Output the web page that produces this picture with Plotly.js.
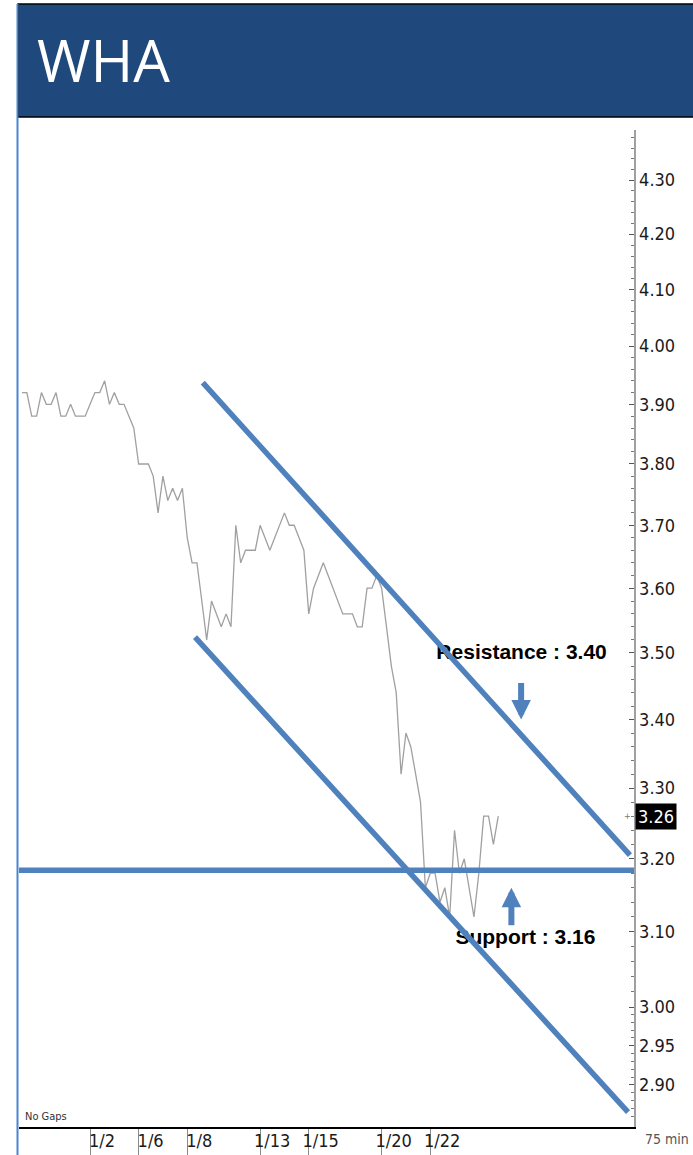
<!DOCTYPE html>
<html>
<head>
<meta charset="utf-8">
<script src="https://cdn.plot.ly/plotly-3.0.1.min.js"></script>
<style>
  html, body { margin: 0; padding: 0; background: #ffffff; }
  #chart { width: 693px; height: 1155px; }
</style>
</head>
<body>
<div id="chart"></div>
<script>
// ---- data (75-minute bars, WHA) ----
const prices = [
  3.92, 3.92, 3.88, 3.88, 3.92, 3.90, 3.90, 3.92, 3.88, 3.88,
  3.90, 3.88, 3.88, 3.88, 3.90, 3.92, 3.92, 3.94, 3.90, 3.92,
  3.90, 3.90, 3.88, 3.86, 3.80, 3.80, 3.80, 3.78, 3.72, 3.78,
  3.74, 3.76, 3.74, 3.76, 3.68, 3.64, 3.64, 3.58, 3.52, 3.58,
  3.56, 3.54, 3.56, 3.54, 3.70, 3.64, 3.66, 3.66, 3.66, 3.70,
  3.68, 3.66, 3.68, 3.70, 3.72, 3.70, 3.70, 3.68, 3.66, 3.56,
  3.60, 3.62, 3.64, 3.62, 3.60, 3.58, 3.56, 3.56, 3.56, 3.54,
  3.54, 3.60, 3.60, 3.62, 3.60, 3.54, 3.48, 3.44, 3.32, 3.38,
  3.36, 3.32, 3.28, 3.16, 3.18, 3.18, 3.14, 3.16, 3.12, 3.24,
  3.18, 3.20, 3.16, 3.12, 3.18, 3.26, 3.26, 3.22, 3.26
];
const bars = prices.map((p, i) => i);

const dateLabels = ['1/2', '1/6', '1/8', '1/13', '1/15', '1/20', '1/22'];
const dateBars = [14, 24, 34, 49, 59, 74, 84];

const yTickVals = [2.90, 2.95, 3.00, 3.10, 3.20, 3.30, 3.40, 3.50, 3.60, 3.70, 3.80, 3.90, 4.00, 4.10, 4.20, 4.30];
const yTickText = ['2.90', '2.95', '3.00', '3.10', '3.20', '3.30', '3.40', '3.50', '3.60', '3.70', '3.80', '3.90', '4.00', '4.10', '4.20', '4.30'];

// trend lines (bar index, price)
const resistLineX = [37.2, 125.1];
const resistLineY = [3.937, 3.205];
const channelLowX = [35.6, 124.7];
const channelLowY = [3.524, 2.866];
const supportLevel = 3.184;
const supportLineX = [-0.7, 126.0];

const resistanceValue = 3.40;
const supportValue = 3.16;
const lastPrice = 3.26;

// ---- layout helpers ----
const W = 693, H = 1155;
const M = { l: 19, r: 59, t: 130, b: 28 };
const plotW = W - M.l - M.r, plotH = H - M.t - M.b;
const px = x => (x - M.l) / plotW;
const py = y => (H - M.b - y) / plotH;

// minor ticks every 0.02 (0.01 below 3.00)
const minorVals = [];
for (let k = 286; k <= 438; k++) {
  const v = k / 100;
  if (v >= 3.0 && k % 2 === 1) continue;
  if (yTickVals.some(t => Math.abs(t - v) < 1e-6)) continue;
  minorVals.push(v);
}

const narrow = 'DejaVu Sans Condensed, Liberation Sans Narrow, sans-serif';
const blue = '#4F81BD';

const traces = [
  {
    x: bars, y: prices, type: 'scatter', mode: 'lines',
    line: { color: '#a0a0a0', width: 1.3 }, hoverinfo: 'skip'
  },
  {
    x: [102.8], y: [3.498], type: 'scatter', mode: 'text',
    text: ['Resistance : ' + resistanceValue.toFixed(2)],
    textfont: { family: 'Liberation Sans, Arial, sans-serif', size: 21, weight: 'bold', color: '#000' },
    textposition: 'middle center', hoverinfo: 'skip'
  },
  {
    x: [103.6], y: [3.090], type: 'scatter', mode: 'text',
    text: ['Support : ' + supportValue.toFixed(2)],
    textfont: { family: 'Liberation Sans, Arial, sans-serif', size: 21, weight: 'bold', color: '#000' },
    textposition: 'middle center', hoverinfo: 'skip'
  },
  {
    x: resistLineX, y: resistLineY, type: 'scatter', mode: 'lines',
    line: { color: blue, width: 5.5 }, hoverinfo: 'skip'
  },
  {
    x: channelLowX, y: channelLowY, type: 'scatter', mode: 'lines',
    line: { color: blue, width: 5.5 }, hoverinfo: 'skip'
  },
  {
    x: supportLineX, y: [supportLevel, supportLevel], type: 'scatter', mode: 'lines',
    line: { color: blue, width: 5.5 }, hoverinfo: 'skip'
  }
];

const layout = {
  width: W, height: H, autosize: false,
  margin: { l: M.l, r: M.r, t: M.t, b: M.b, pad: 0 },
  paper_bgcolor: '#ffffff', plot_bgcolor: '#ffffff',
  showlegend: false,
  title: {
    text: 'WHA',
    font: { family: 'Open Sans, Liberation Sans, sans-serif', size: 58, color: '#ffffff', weight: 400 },
    xref: 'container', x: 37 / W, xanchor: 'left',
    yref: 'container', y: 1 - 62 / H, yanchor: 'middle'
  },
  xaxis: {
    range: [-0.617, 125.93], fixedrange: true,
    showgrid: false, zeroline: false,
    showline: true, linecolor: '#000', linewidth: 1.5,
    tickmode: 'array', tickvals: dateBars, ticktext: dateLabels,
    ticks: 'outside', ticklen: 30, tickwidth: 1, tickcolor: '#8a8a8a',
    ticklabelshift: 12, ticklabelstandoff: -33,
    tickfont: { family: narrow, size: 18, color: '#1a1a1a' }
  },
  yaxis: {
    type: 'log', side: 'right',
    range: [0.45445, 0.64292], fixedrange: true,
    showgrid: false, zeroline: false,
    showline: true, linecolor: '#a0a0a0', linewidth: 1.5,
    tickmode: 'array', tickvals: yTickVals, ticktext: yTickText,
    ticks: 'inside', ticklen: 5, tickwidth: 1, tickcolor: '#555',
    tickfont: { family: narrow, size: 18, color: '#1a1a1a' },
    minor: { tickmode: 'array', tickvals: minorVals, ticks: 'inside', ticklen: 3, tickwidth: 1, tickcolor: '#777', showgrid: false }
  },
  shapes: [
    // header bar
    { type: 'rect', xref: 'paper', yref: 'paper', x0: px(18), x1: px(694), y0: py(117), y1: py(4),
      fillcolor: '#1F497D', line: { color: '#000', width: 1.5 }, layer: 'above' },
    // left border
    { type: 'line', xref: 'paper', yref: 'paper', x0: px(17.5), x1: px(17.5), y0: py(4), y1: py(1155),
      line: { color: '#4A86CF', width: 2 }, layer: 'above' }
  ],
  annotations: [
    { xref: 'x', yref: 'y', x: 102.7, y: Math.log10(resistanceValue), ax: 0, ay: -38,
      showarrow: true, arrowhead: 2, arrowsize: 0.65, arrowwidth: 6, arrowcolor: blue, text: '' },
    { xref: 'x', yref: 'y', x: 100.7, y: Math.log10(supportValue), ax: 0, ay: 39,
      showarrow: true, arrowhead: 2, arrowsize: 0.65, arrowwidth: 6, arrowcolor: blue, text: '' },
    { xref: 'paper', yref: 'y', x: 1, y: Math.log10(lastPrice), xanchor: 'left', yanchor: 'middle', xshift: 1,
      text: lastPrice.toFixed(2), showarrow: false, bgcolor: '#000', borderpad: 2,
      font: { family: narrow, size: 18, color: '#ffffff' } },
    { xref: 'paper', yref: 'y', x: 1, y: Math.log10(lastPrice), xanchor: 'right', yanchor: 'middle', xshift: -1,
      text: '+', showarrow: false, font: { family: narrow, size: 9, color: '#777' } },
    { xref: 'paper', yref: 'paper', x: px(23), y: py(1116), xanchor: 'left', yanchor: 'middle',
      text: 'No Gaps', showarrow: false, font: { family: narrow, size: 11, color: '#333' } },
    { xref: 'paper', yref: 'paper', x: px(691), y: py(1139), xanchor: 'right', yanchor: 'middle',
      text: '75 min', showarrow: false, font: { family: narrow, size: 14, color: '#555' } }
  ]
};

Plotly.newPlot('chart', traces, layout, { staticPlot: true, displayModeBar: false });
</script>
</body>
</html>
